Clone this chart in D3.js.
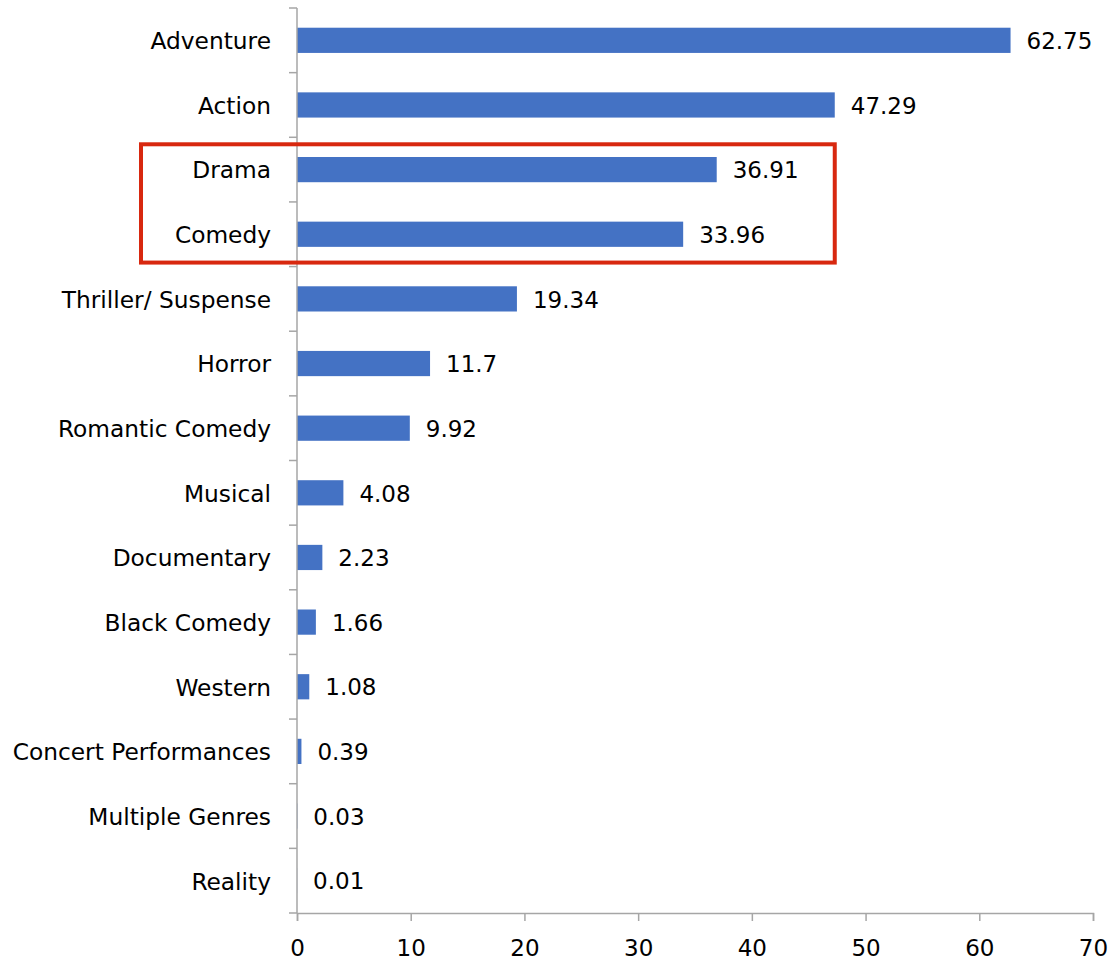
<!DOCTYPE html>
<html>
<head>
<meta charset="utf-8">
<script src="https://cdn.jsdelivr.net/npm/d3@7"></script>
<style>
  html, body { margin: 0; padding: 0; background: #fff; }
  svg { display: block; font-family: "DejaVu Sans", Verdana, sans-serif; }
</style>
</head>
<body>
<svg id="chart" width="1109" height="960"></svg>
<script>
// Box office share by genre
const genres = [
  "Adventure", "Action", "Drama", "Comedy", "Thriller/ Suspense", "Horror",
  "Romantic Comedy", "Musical", "Documentary", "Black Comedy", "Western",
  "Concert Performances", "Multiple Genres", "Reality"
];
const shares = [62.75, 47.29, 36.91, 33.96, 19.34, 11.7, 9.92, 4.08, 2.23, 1.66, 1.08, 0.39, 0.03, 0.01];
const xTicks = [0, 10, 20, 30, 40, 50, 60, 70];
const highlighted = ["Drama", "Comedy"];

const data = genres.map((g, i) => ({ genre: g, value: shares[i] }));

const svg = d3.select("#chart");
const plotLeft = 297, plotRight = 1093, plotTop = 8, plotBottom = 913;
const axisColor = "#a6a6a6";
const barColor = "#4472c4";

const x = d3.scaleLinear().domain([0, 70]).range([plotLeft, plotRight]);
const y = d3.scaleBand().domain(genres).range([plotTop, plotBottom])
  .paddingInner(0.61).paddingOuter(0.305);
const step = y.step();

// bars
svg.append("g").selectAll("rect").data(data).join("rect")
  .attr("x", x(0))
  .attr("y", d => y(d.genre))
  .attr("width", d => x(d.value) - x(0))
  .attr("height", y.bandwidth())
  .attr("fill", barColor);

// value labels
svg.append("g").selectAll("text").data(data).join("text")
  .attr("x", d => x(d.value) + 16)
  .attr("y", d => y(d.genre) + y.bandwidth() / 2)
  .attr("dy", "0.38em")
  .attr("font-size", 23)
  .attr("fill", "#000")
  .text(d => String(d.value));

// category axis
const yAxis = svg.append("g");
yAxis.append("line")
  .attr("x1", plotLeft).attr("x2", plotLeft)
  .attr("y1", plotTop).attr("y2", plotBottom)
  .attr("stroke", axisColor).attr("stroke-width", 1.5);
yAxis.selectAll("line.tick").data(d3.range(genres.length + 1)).join("line")
  .attr("class", "tick")
  .attr("x1", plotLeft - 8).attr("x2", plotLeft)
  .attr("y1", i => plotTop + i * step).attr("y2", i => plotTop + i * step)
  .attr("stroke", axisColor).attr("stroke-width", 1.5);
yAxis.selectAll("text").data(genres).join("text")
  .attr("x", plotLeft - 26)
  .attr("y", g => y(g) + y.bandwidth() / 2)
  .attr("dy", "0.38em")
  .attr("text-anchor", "end")
  .attr("font-size", 23.3)
  .attr("fill", "#000")
  .text(g => g);

// value axis
const xAxis = svg.append("g")
  .attr("transform", `translate(0,${plotBottom})`)
  .call(d3.axisBottom(x).tickValues(xTicks).tickSize(8).tickPadding(19).tickFormat(d3.format("d")));
xAxis.select(".domain").attr("stroke", axisColor).attr("stroke-width", 1.5);
xAxis.selectAll(".tick line").attr("stroke", axisColor).attr("stroke-width", 1.5);
xAxis.selectAll(".tick text")
  .attr("font-size", 23)
  .attr("font-family", "DejaVu Sans, Verdana, sans-serif")
  .attr("fill", "#000");

// highlight frame around the drama/comedy rows
const first = highlighted[0], last = highlighted[highlighted.length - 1];
const boxTop = y(first) - (step - y.bandwidth()) / 2 + 7;
const boxBottom = y(last) + y.bandwidth() + (step - y.bandwidth()) / 2 - 4;
svg.append("rect")
  .attr("x", 141)
  .attr("y", boxTop)
  .attr("width", x(shares[1]) - 141)
  .attr("height", boxBottom - boxTop)
  .attr("fill", "none")
  .attr("stroke", "#d8280f")
  .attr("stroke-width", 4);
</script>
</body>
</html>
